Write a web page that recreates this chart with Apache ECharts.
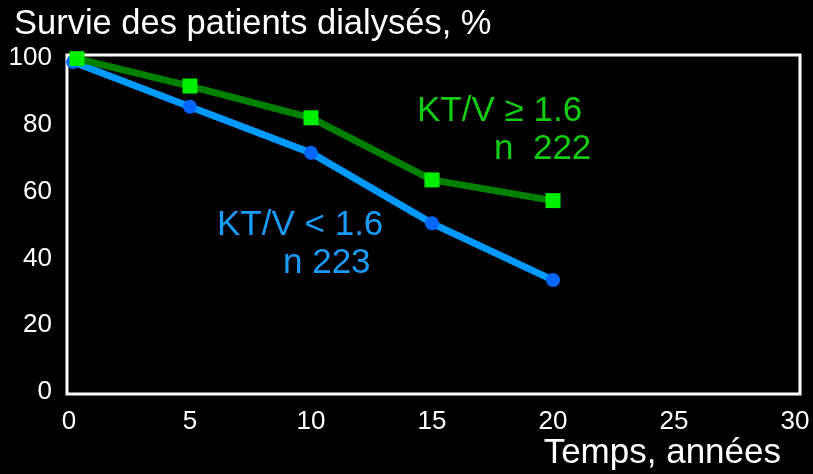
<!DOCTYPE html>
<html>
<head>
<meta charset="utf-8">
<script src="https://cdn.jsdelivr.net/npm/echarts@6/dist/echarts.min.js"></script>
<style>
  html, body { margin: 0; padding: 0; background: #000; }
  #main { width: 813px; height: 474px; }
</style>
</head>
<body>
<div id="main"></div>
<script>
// survie (%) en fonction du temps (années)
const timeHigh = [0.33, 5, 10, 15, 20];
const survieHigh = [99.8, 91.6, 82.1, 63.5, 57.3];   // KT/V >= 1.6, n 222
const timeLow = [0.17, 5, 10, 15, 20];
const survieLow = [98.8, 85.4, 71.6, 50.5, 33.5];    // KT/V < 1.6, n 223
const xTicks = [0, 5, 10, 15, 20, 25, 30];
const yTicks = [0, 20, 40, 60, 80, 100];

const font = '"Liberation Sans", Arial, sans-serif';

let myChart = echarts.init(document.getElementById('main'));
let option = {
    backgroundColor: '#000',
    animation: false,
    grid: {
        left: 69,
        right: 18,
        top: 58,
        bottom: 82
    },
    xAxis: {
        type: 'value',
        min: xTicks[0],
        max: xTicks[xTicks.length - 1],
        interval: 5,
        axisLine: { show: false },
        axisTick: { show: false },
        splitLine: { show: false },
        axisLabel: {
            color: '#fff',
            fontFamily: font,
            fontSize: 26,
            margin: 17
        }
    },
    yAxis: {
        type: 'value',
        min: yTicks[0],
        max: yTicks[yTicks.length - 1],
        interval: 20,
        axisLine: { show: false },
        axisTick: { show: false },
        splitLine: { show: false },
        axisLabel: {
            color: '#fff',
            fontFamily: font,
            fontSize: 26,
            margin: 17
        }
    },
    graphic: [
        {
            // cadre blanc autour du graphe
            type: 'rect', left: 64.5, top: 52.5, z: 0,
            shape: { width: 733, height: 339 },
            style: { fill: 'none', stroke: '#fff', lineWidth: 3 }
        },
        {
            type: 'text', left: 14, top: 7,
            style: { text: 'Survie des patients dialysés, %', fill: '#fff', font: '34.5px ' + font }
        },
        {
            type: 'text', right: 32, top: 436,
            style: { text: 'Temps, années', fill: '#fff', font: '35px ' + font }
        },
        {
            type: 'text', left: 417, top: 94,
            style: { text: 'KT/V ≥ 1.6', fill: '#11cc11', font: '35px ' + font }
        },
        {
            type: 'text', left: 494, top: 132,
            style: { text: 'n  222', fill: '#11cc11', font: '35px ' + font }
        },
        {
            type: 'text', left: 217, top: 208,
            style: { text: 'KT/V < 1.6', fill: '#1a9cff', font: '35px ' + font }
        },
        {
            type: 'text', left: 283, top: 246,
            style: { text: 'n 223', fill: '#1a9cff', font: '35px ' + font }
        }
    ],
    series: [
        {
            name: 'KT/V < 1.6',
            type: 'line',
            data: timeLow.map((t, i) => [t, survieLow[i]]),
            symbol: 'circle',
            symbolSize: 14,
            lineStyle: { color: '#0099ff', width: 7 },
            itemStyle: { color: '#0066ff' },
            z: 3
        },
        {
            name: 'KT/V ≥ 1.6',
            type: 'line',
            data: timeHigh.map((t, i) => [t, survieHigh[i]]),
            symbol: 'rect',
            symbolSize: 15,
            lineStyle: { color: '#008000', width: 7 },
            itemStyle: { color: '#00ee00' },
            z: 4
        }
    ]
};
myChart.setOption(option);
</script>
</body>
</html>
